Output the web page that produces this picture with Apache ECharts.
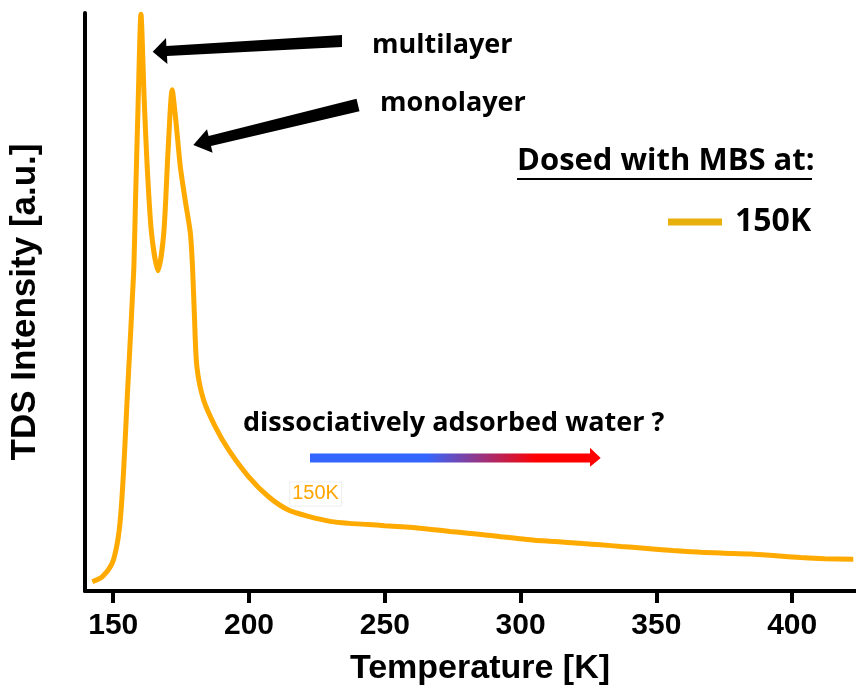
<!DOCTYPE html>
<html>
<head>
<meta charset="utf-8">
<script src="https://cdn.jsdelivr.net/npm/echarts@6.0.0/dist/echarts.min.js"></script>
<style>
  html, body { margin: 0; padding: 0; background: #fff; }
  #chart { width: 856px; height: 693px; }
</style>
</head>
<body>
<div id="chart"></div>
<script>
// TDS trace, sample dosed with MBS at 150 K
const temperatureK = [142.3, 146.0, 149.6, 151.5, 152.7, 153.9, 155.1, 156.4, 157.0, 157.6, 158.2, 159.2, 160.2,
  161.4, 162.5, 164.1, 166.5, 168.6, 170.2, 171.7, 172.9, 174.7, 176.5, 178.4, 179.2, 179.9, 180.8,
  183.3, 187.6, 192.5, 199.8, 207.2, 214.5, 221.9, 230.4, 237.0, 243.9, 250.0, 256.1, 262.0, 268.2,
  274.0, 280.6, 287.0, 292.8, 299.0, 305.1, 311.0, 317.2, 323.0, 329.4, 337.0, 345.5, 356.0, 366.5,
  375.0, 384.8, 394.0, 403.1, 412.0, 422.5];
const intensity150K = [1.6, 2.5, 4.8, 8.3, 12.9, 21.5, 33.0, 44.6, 50.3, 56.1, 67.6, 85.0, 99.8,
  85.0, 73.4, 61.9, 55.4, 61.9, 76.3, 86.7, 82.1, 73.4, 67.6, 61.9, 56.0, 47.5, 38.8,
  33.0, 28.4, 24.4, 19.8, 16.3, 14.0, 12.9, 12.0, 11.7, 11.5, 11.3, 11.1, 10.9, 10.6,
  10.3, 10.0, 9.7, 9.4, 9.1, 8.8, 8.6, 8.4, 8.2, 8.0, 7.7, 7.4, 7.0, 6.7,
  6.55, 6.4, 6.1, 5.8, 5.6, 5.5];
const xTickValues = [150, 200, 250, 300, 350, 400];
const seriesName = '150K';
const seriesLabelAt = [224.5, 16.8];

const chart = echarts.init(document.getElementById('chart'), null, { renderer: 'canvas' });

const axisFont = '"Liberation Sans Narrow", "Liberation Sans", Arial, sans-serif';
const noteFont = '"Open Sans", Lato, sans-serif';

function note(text, x, y, size) {
  return {
    type: 'text',
    style: { text: text, x: x, y: y, align: 'left', verticalAlign: 'middle',
      fontFamily: noteFont, fontWeight: 'bold', fontSize: size, fill: '#000' }
  };
}

chart.setOption({
  animation: false,
  backgroundColor: '#fff',
  grid: { left: 83, right: 0, top: 13, bottom: 102, containLabel: false },
  xAxis: {
    type: 'value',
    min: 139.6,
    max: 423.5,
    name: 'Temperature [K]',
    nameLocation: 'middle',
    nameGap: 61,
    nameTextStyle: { fontFamily: axisFont, fontWeight: 'bold', fontSize: 34, color: '#000', padding: [0, 0, 0, 19] },
    axisLine: { show: true, onZero: false, lineStyle: { color: '#000', width: 4 } },
    axisTick: { show: true, inside: false, length: 12, customValues: xTickValues, lineStyle: { color: '#000', width: 4 } },
    axisLabel: { customValues: xTickValues, margin: 20, fontFamily: axisFont, fontWeight: 'bold', fontSize: 30, color: '#000' },
    splitLine: { show: false }
  },
  yAxis: {
    type: 'value',
    min: 0,
    max: 100,
    name: 'TDS Intensity [a.u.]',
    nameLocation: 'middle',
    nameGap: 42,
    nameTextStyle: { fontFamily: '"Liberation Sans", Arial, sans-serif', fontWeight: 'bold', fontSize: 35, color: '#000' },
    axisLine: { show: true, onZero: false, lineStyle: { color: '#000', width: 4 } },
    axisTick: { show: false },
    axisLabel: { show: false },
    splitLine: { show: false }
  },
  legend: {
    left: 668,
    top: 206,
    padding: 0,
    icon: 'rect',
    itemWidth: 54,
    itemHeight: 7,
    itemGap: 0,
    data: [{ name: seriesName, itemStyle: { color: '#E8B00C' } }],
    textStyle: { fontFamily: noteFont, fontWeight: 'bold', fontSize: 32, color: '#000', padding: [0, 0, 0, 8] }
  },
  series: [{
    name: seriesName,
    type: 'line',
    data: temperatureK.map((t, i) => [t, intensity150K[i]]),
    smooth: 0.25,
    showSymbol: false,
    clip: false,
    lineStyle: { color: '#FFAA00', width: 5 },
    itemStyle: { color: '#FFAA00' },
    markPoint: {
      symbol: 'rect',
      symbolSize: 0,
      silent: true,
      data: [{ coord: seriesLabelAt, value: seriesName }],
      label: {
        show: true,
        position: 'inside',
        formatter: seriesName,
        color: '#FFA500',
        fontFamily: '"Liberation Sans", Arial, sans-serif',
        fontSize: 20,
        backgroundColor: '#fff',
        borderColor: '#eeeeee',
        borderWidth: 1,
        padding: [2, 2, 1, 2]
      }
    }
  }],
  graphic: [
    // arrow pointing at the multilayer peak
    { type: 'polygon', shape: { points: [[342, 35], [342, 47], [167, 56], [167.4, 64], [152.7, 51.7], [166, 38], [166.4, 46]] }, style: { fill: '#000' } },
    // arrow pointing at the monolayer peak
    { type: 'polygon', shape: { points: [[356.5, 98.7], [359.5, 111.3], [211, 146], [212.6, 152.7], [193.3, 145], [207, 129.3], [208.6, 136.1]] }, style: { fill: '#000' } },
    note('multilayer', 372, 45, 27),
    note('monolayer', 380, 103, 27),
    // legend heading with underline
    note('Dosed with MBS at:', 517, 161, 31),
    { type: 'rect', shape: { x: 517, y: 178, width: 295, height: 2 }, style: { fill: '#000' } },
    // water desorption note with gradient arrow
    note('dissociatively adsorbed water ?', 243, 423, 27),
    {
      type: 'polygon',
      shape: { points: [[310, 453.5], [590, 453.5], [590, 447.7], [600.7, 458], [590, 466.7], [590, 462.5], [310, 462.5]] },
      style: {
        fill: new echarts.graphic.LinearGradient(0, 0, 1, 0, [
          { offset: 0, color: '#3366FF' },
          { offset: 0.4, color: '#3366FF' },
          { offset: 0.78, color: '#FF0000' },
          { offset: 1, color: '#FF0000' }
        ])
      }
    }
  ]
});
</script>
</body>
</html>
